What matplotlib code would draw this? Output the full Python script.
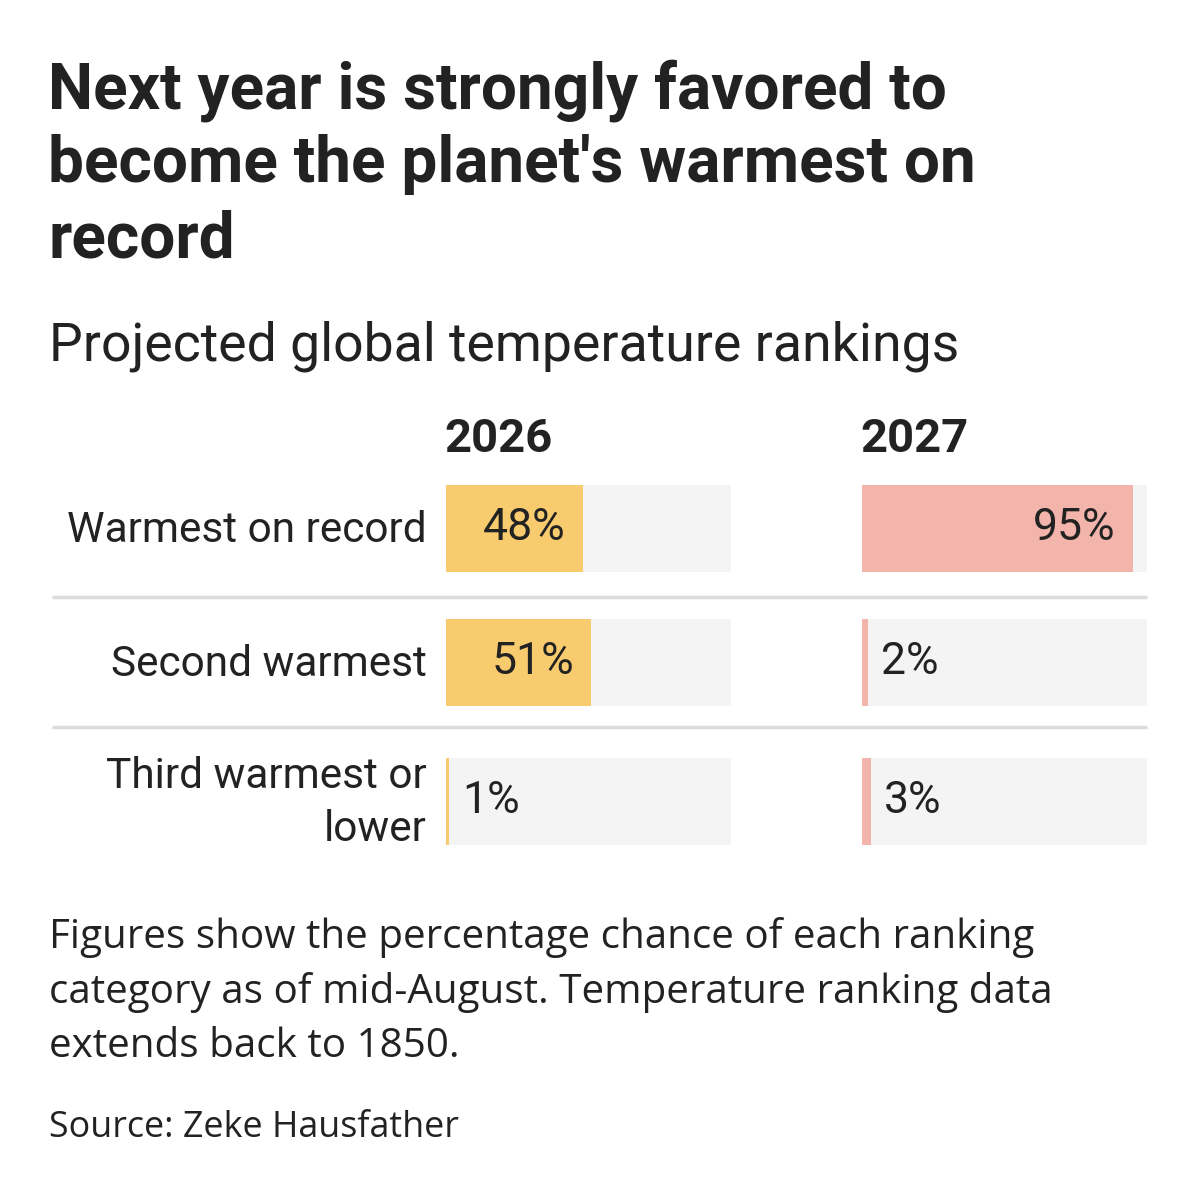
import matplotlib.pyplot as plt

# data
categories = ["Warmest on record", "Second warmest", "Third warmest or\nlower"]
years = ["2026", "2027"]
values_2026 = [48, 51, 1]
values_2027 = [95, 2, 3]
series = [values_2026, values_2027]
bar_colors = ["#f8cb6e", "#f3b4ac"]

title_lines = ["Next year is strongly favored to",
               "become the planet's warmest on",
               "record"]
subtitle = "Projected global temperature rankings"
note_lines = ["Figures show the percentage chance of each ranking",
              "category as of mid-August. Temperature ranking data",
              "extends back to 1850."]
source = "Source: Zeke Hausfather"

TXT = "#222222"
W = H = 1200

fig = plt.figure(figsize=(12, 12), dpi=100)
fig.patch.set_facecolor("white")

# full-figure axes in pixel units for text and rules
base = fig.add_axes([0, 0, 1, 1])
base.set_xlim(0, W)
base.set_ylim(H, 0)
base.axis("off")

# title, one line at a time
for yb, line in zip([108, 182, 257], title_lines):
    base.text(48, yb, line, fontsize=46, fontweight="bold", family="Roboto",
              color=TXT, va="baseline", ha="left")
base.text(49, 360, subtitle, fontsize=38.6, family="Roboto", color=TXT,
          va="baseline", ha="left")

row_y = [528, 662, 801]
bar_h = 87
col_left = [446, 862]
col_w = 285

for ypos, lab in zip(row_y, categories):
    base.text(427, ypos + 2, lab, fontsize=30.5, family="Roboto", color=TXT,
              ha="right", va="center", linespacing=1.4)

for sep in [597, 727]:
    base.plot([52, 1147], [sep, sep], color="#dcdcdc", lw=2.5,
              solid_capstyle="butt")

for left, yr, vals, c in zip(col_left, years, series, bar_colors):
    base.text(left - 2, 452, yr, fontsize=34, fontweight="bold",
              family="Roboto", color=TXT, ha="left", va="baseline")
    ax = fig.add_axes([left / W, 0, col_w / W, 1])
    ax.set_xlim(0, 100)
    ax.set_ylim(H, 0)
    ax.axis("off")
    ax.barh(row_y, [100] * len(vals), height=bar_h, color="#f4f4f4", lw=0)
    ax.barh(row_y, vals, height=bar_h, color=c, lw=0)
    for ypos, v in zip(row_y, vals):
        if v >= 20:
            ax.text(v - 6, ypos, f"{v}%", fontsize=32, family="Roboto",
                    color=TXT, ha="right", va="center")
        else:
            ax.text(v + 4.6, ypos, f"{v}%", fontsize=32, family="Roboto",
                    color=TXT, ha="left", va="center")

for yb, line in zip([948, 1003, 1057], note_lines):
    base.text(49, yb, line, fontsize=29.1, family="Open Sans", color=TXT,
              ha="left", va="baseline")
base.text(49, 1137, source, fontsize=25.8, family="Open Sans", color=TXT,
          ha="left", va="baseline")

plt.savefig("out.png", dpi=100)
